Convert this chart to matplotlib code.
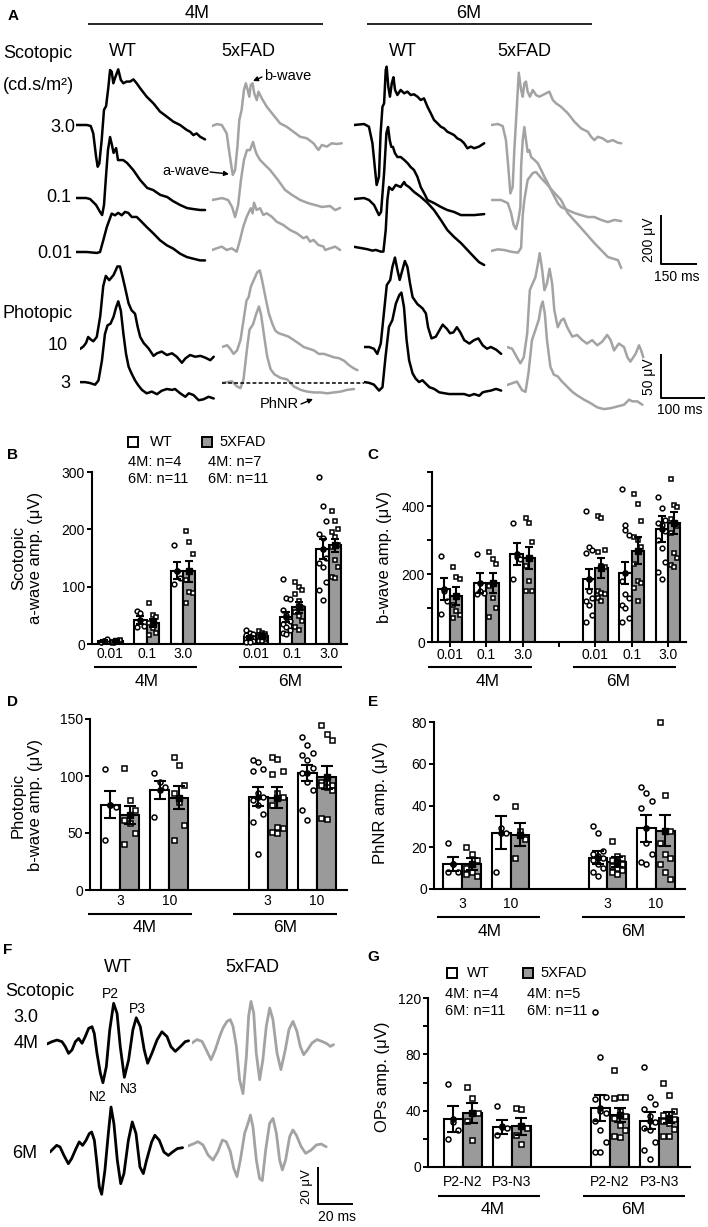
import matplotlib.pyplot as plt

plt.rcParams['font.family'] = ['Liberation Sans', 'DejaVu Sans']

W, H = 708, 1227
GRAY_LINE = '#a3a3a3'
GRAY_BAR = '#9a9a9a'

# scale factors taken from the scale bars (units per pixel)
US, TS = 200 / 48, 150 / 35     # scotopic: uV/px, ms/px
UP, TP = 50 / 43, 100 / 43      # photopic
UF, TF = 20 / 36, 20 / 34       # oscillatory potentials

# ---------------- A: scotopic ERG traces (t in ms, v in uV) ----------------
a_wt4_30_t = [0, 46, 63, 74, 86, 93, 100, 110, 120, 129, 139, 146, 153, 160, 167, 181, 192, 203, 217, 232, 246, 260, 275, 303, 332, 360, 389, 417, 446, 475, 489, 503, 517, 532, 553]
a_wt4_30_v = [0, 0, -4, -35, -132, -174, -160, -63, 63, 79, 160, 229, 222, 174, 195, 232, 188, 174, 181, 181, 190, 174, 153, 118, 90, 56, 35, 14, 0, -21, -28, -42, -35, -49, -60]
a_wt4_01_t = [0, 43, 60, 86, 103, 112, 120, 129, 137, 146, 154, 161, 172, 180, 202, 219, 245, 275, 305, 331, 361, 391, 416, 446, 476, 502, 532, 553]
a_wt4_01_v = [0, 0, -4, -29, -58, -71, -29, 96, 200, 254, 221, 188, 208, 158, 158, 146, 117, 75, 42, 33, 13, 4, -13, -29, -42, -46, -50, -50]
a_wt4_001_t = [0, 46, 89, 103, 117, 132, 153, 167, 181, 196, 210, 224, 239, 260, 275, 303, 332, 360, 389, 417, 446, 475, 503, 532, 553]
a_wt4_001_v = [0, 0, -4, 0, 49, 104, 160, 153, 163, 153, 167, 163, 146, 146, 132, 104, 77, 49, 28, 14, -7, -21, -28, -35, -35]

a_fad4_30_t = [0, 21, 42, 63, 77, 89, 99, 109, 117, 127, 137, 145, 151, 160, 166, 174, 181, 192, 199, 213, 235, 263, 292, 320, 349, 378, 406, 435, 456, 471, 492, 513, 535, 556]
a_fad4_30_v = [0, 8, 4, -31, -128, -204, -183, -86, 25, 67, 150, 178, 157, 122, 171, 178, 136, 108, 143, 116, 80, 46, 11, -3, -24, -45, -51, -72, -100, -79, -86, -72, -75, -72]
a_fad4_01_t = [0, 43, 69, 86, 99, 112, 124, 137, 150, 163, 176, 185, 193, 206, 227, 249, 283, 313, 343, 378, 412, 442, 472, 506, 528, 549]
a_fad4_01_v = [0, 8, 0, -29, -71, -21, 83, 167, 208, 208, 242, 208, 188, 167, 146, 125, 83, 42, 21, 0, -13, -21, -29, -25, -42, -33]
a_fad4_001_t = [0, 20, 42, 63, 85, 106, 120, 134, 149, 166, 174, 180, 191, 206, 220, 234, 256, 277, 306, 335, 363, 392, 406, 420, 435, 456, 478, 485, 506, 528, 549]
a_fad4_001_v = [0, 7, 14, 0, 7, -7, 42, 97, 139, 174, 153, 197, 167, 174, 146, 153, 139, 118, 104, 83, 70, 49, 56, 35, 42, 21, 14, 0, 7, 14, 0]

a_wt6_30_t = [0, 43, 64, 79, 89, 97, 107, 114, 122, 129, 136, 140, 147, 154, 162, 169, 176, 186, 200, 215, 229, 243, 257, 272, 286, 300, 315, 329, 343, 358, 372, 386, 400, 415, 429, 443, 458, 472, 486, 501, 515, 536, 558]
a_wt6_30_v = [0, 4, -7, -76, -174, -250, -215, -35, 76, 90, 229, 243, 160, 118, 174, 199, 146, 125, 146, 132, 139, 125, 128, 118, 104, 111, 76, 49, 21, 7, -7, -14, -28, -35, -42, -56, -63, -76, -97, -90, -97, -90, -76]
a_wt6_01_t = [0, 43, 64, 86, 107, 116, 129, 139, 146, 153, 160, 167, 175, 186, 200, 215, 229, 243, 257, 272, 286, 300, 315, 343, 372, 400, 429, 458, 486, 515, 558]
a_wt6_01_v = [0, 4, -4, -25, -67, -54, 108, 275, 300, 246, 217, 217, 192, 175, 175, 163, 150, 133, 121, 92, 50, 25, -4, -17, -33, -46, -54, -67, -67, -67, -63]
a_wt6_001_t = [0, 29, 57, 79, 93, 115, 126, 136, 143, 150, 164, 179, 200, 215, 222, 236, 257, 286, 315, 343, 372, 400, 429, 458, 486, 515, 536, 558]
a_wt6_001_v = [5, 0, -5, -11, -8, -15, -15, 75, 200, 254, 242, 263, 254, 275, 263, 254, 234, 213, 188, 158, 117, 75, 46, 21, -8, -38, -59, -71]

a_fad6_30_t = [0, 29, 50, 64, 74, 83, 93, 100, 110, 119, 129, 136, 143, 150, 157, 167, 179, 193, 207, 222, 236, 250, 265, 279, 300, 329, 357, 386, 400, 415, 429, 443, 458, 479, 500, 522, 544, 558]
a_fad6_30_v = [0, 4, -4, -63, -174, -285, -257, -104, 63, 218, 146, 118, 174, 181, 139, 118, 146, 125, 118, 125, 132, 139, 104, 90, 76, 49, 14, -14, -21, -28, -49, -63, -49, -56, -70, -63, -74, -76]
a_fad6_01_t = [0, 43, 72, 86, 97, 107, 117, 126, 129, 136, 143, 150, 157, 164, 172, 186, 200, 215, 229, 243, 257, 272, 286, 300, 329, 357, 386, 415, 443, 472, 501, 529, 558]
a_fad6_01_v = [0, 0, -13, -54, -104, -121, -83, -29, 138, 250, 304, 250, 200, 208, 179, 167, 154, 125, 96, 71, 42, 13, -13, -29, -42, -54, -63, -71, -71, -83, -92, -83, -88]
a_fad6_001_t = [0, 29, 57, 86, 115, 129, 136, 143, 157, 179, 193, 215, 243, 272, 300, 329, 386, 443, 501, 544, 558]
a_fad6_001_v = [0, 7, 4, -3, -7, 13, 150, 213, 296, 325, 329, 304, 275, 242, 213, 158, 96, 33, -25, -38, -71]

# ---------------- A: photopic ERG traces ----------------
a_wt4_p10_t = [0, 8, 14, 19, 25, 31, 39, 47, 54, 60, 68, 78, 87, 93, 99, 105, 113, 120, 128, 134, 140, 148, 159, 171, 179, 190, 202, 214, 225, 237, 245, 256, 268, 280, 291, 303, 311]
a_wt4_p10_v = [0, 3, 7, 14, 11, 9, 14, 38, 73, 85, 80, 86, 96, 96, 84, 71, 53, 45, 41, 26, 14, 7, 1, -8, -5, -3, -7, -5, -9, -16, -11, -7, -9, -8, -10, -13, -9]
a_wt4_p3_t = [0, 12, 23, 35, 43, 51, 58, 64, 71, 78, 84, 89, 95, 101, 107, 113, 120, 128, 136, 144, 155, 167, 179, 190, 202, 214, 221, 233, 245, 253, 264, 276, 287, 299, 311]
a_wt4_p3_v = [1, 1, 0, -2, 3, 26, 57, 67, 69, 77, 88, 95, 84, 57, 34, 19, 11, 3, -3, -8, -12, -10, -13, -9, -7, -8, -7, -12, -16, -12, -14, -20, -19, -16, -18]
a_fad4_p10_t = [0, 12, 19, 27, 35, 43, 50, 57, 62, 67, 74, 82, 88, 93, 101, 109, 117, 124, 132, 144, 155, 167, 179, 190, 202, 214, 225, 237, 249, 260, 272, 284, 295, 307, 315]
a_fad4_p10_v = [0, 2, -2, -8, -4, 8, 31, 54, 58, 70, 78, 87, 89, 78, 58, 39, 27, 19, 16, 14, 12, 8, 4, 0, -2, -4, -8, -8, -10, -12, -13, -16, -21, -25, -27]
a_fad4_p3_t = [0, 12, 23, 35, 43, 50, 58, 64, 72, 80, 86, 91, 97, 105, 113, 122, 136, 152, 167, 183, 198, 214, 229, 245, 260, 276, 291, 307]
a_fad4_p3_v = [0, 1, 2, -4, -6, 4, 39, 62, 68, 81, 89, 79, 58, 31, 16, 10, 6, 4, -4, -8, -10, -11, -11, -12, -11, -10, -8, -7]
a_wt6_p10_t = [0, 12, 23, 31, 39, 47, 53, 61, 66, 72, 78, 83, 89, 95, 101, 107, 113, 124, 136, 144, 149, 157, 167, 175, 183, 193, 200, 208, 216, 224, 233, 245, 256, 266, 276, 286, 295, 307, 319]
a_wt6_p10_v = [0, 0, -2, -8, 4, 43, 72, 78, 93, 104, 89, 78, 89, 100, 93, 74, 58, 50, 45, 39, 23, 10, 12, 19, 26, 21, 16, 17, 23, 17, 8, 4, 8, 10, 2, -2, 0, -3, -8]
a_wt6_p3_t = [0, 12, 23, 35, 43, 50, 58, 66, 74, 82, 87, 93, 99, 105, 113, 120, 128, 136, 144, 152, 163, 175, 186, 198, 210, 221, 233, 245, 256, 268, 276, 284, 295, 307, 319]
a_wt6_p3_v = [0, -1, -3, -10, -6, 29, 64, 72, 91, 101, 104, 87, 49, 25, 10, 4, 0, 2, -2, -6, -8, -12, -13, -14, -14, -14, -14, -16, -14, -16, -12, -11, -10, -8, -10]
a_fad6_p10_t = [0, 12, 23, 31, 39, 47, 53, 58, 66, 72, 76, 82, 87, 93, 99, 105, 110, 118, 126, 132, 140, 152, 163, 175, 186, 198, 210, 221, 233, 241, 249, 260, 272, 280, 287, 299, 307, 312, 317]
a_fad6_p10_v = [0, -2, -12, -19, -12, 16, 66, 72, 81, 97, 109, 89, 66, 74, 91, 74, 43, 23, 31, 33, 23, 12, 14, 8, 4, 8, 2, 6, 14, 8, -4, 4, 0, -12, -17, -8, 2, -4, -12]
a_fad6_p3_t = [0, 12, 23, 35, 43, 50, 58, 66, 74, 79, 83, 88, 93, 101, 109, 118, 128, 140, 152, 163, 179, 194, 210, 225, 241, 256, 272, 284, 291, 303, 315]
a_fad6_p3_v = [0, 2, 4, -6, -8, 14, 52, 64, 76, 91, 97, 83, 52, 21, 12, 10, 4, -2, -8, -12, -17, -21, -26, -28, -27, -25, -23, -17, -19, -19, -23]

# ---------------- F: oscillatory potentials (ms, uV) ----------------
f_wt4_t = [0, 2.9, 5.9, 8.8, 10.8, 12.7, 14.7, 16.7, 18.6, 20.6, 22.5, 24.5, 26.5, 27.8, 29.4, 31.4, 32.9, 34.9, 36.9, 39.2, 41.2, 43.1, 45.5, 48.0, 50.5, 52.5, 54.9, 57.2, 59.2, 61.7, 64.7, 67.6, 70.6, 72.9, 75.5, 78.4, 81.3, 83.3]
f_wt4_v = [0, 1.3, 2.2, 1.3, -1.5, -5.2, -3.3, 1.3, 3.1, 0.4, 4.1, 8.7, 9.6, 5.9, -5.2, -16.3, -21.5, -12.6, 7.8, 22.6, 17.0, -1.5, -18.5, -8.9, 7.8, 14.6, 9.6, -3.3, -10.7, -5.2, 2.2, 6.8, 4.1, -1.5, -4.1, -1.5, 1.3, 1.8]
f_fad4_t = [0, 2.9, 5.9, 8.8, 11.2, 13.7, 16.3, 18.2, 20.6, 22.5, 24.1, 26.1, 28.0, 30.0, 32.0, 33.3, 34.7, 36.3, 37.8, 39.8, 41.7, 43.7, 45.7, 47.6, 50.0, 52.3, 54.9, 57.0, 59.4, 61.7, 63.7, 65.7, 68.0, 70.6, 73.5, 76.4, 79.4, 81.3, 83.3]
f_fad4_v = [0, 1.9, 0.9, -4.6, -9.3, -3.7, 3.7, 8.3, 12.0, 13.0, 9.3, -1.9, -20.4, -28.1, -7.4, 14.8, 23.1, 16.7, -5.6, -20.4, -9.3, 9.3, 19.4, 13.0, -5.6, -14.8, -3.7, 7.4, 12.0, 6.5, -1.9, -6.5, -3.7, 0, 1.9, 0.9, -0.4, -1.9, -0.9]
f_wt6_t = [0, 2.0, 3.9, 5.9, 8.2, 10.8, 12.7, 15.3, 17.2, 19.2, 21.2, 23.1, 24.5, 26.1, 27.4, 29.0, 30.4, 32.3, 34.3, 35.9, 37.6, 39.6, 41.6, 43.5, 46.1, 48.4, 50.6, 52.9, 54.9, 56.8, 59.8, 61.7, 64.3, 67.0, 69.6, 72.1, 74.9, 78.0]
f_wt6_v = [0, 1.9, 3.7, 2.8, -1.9, -6.5, -3.7, 1.9, 5.6, 3.7, 6.5, 10.2, 11.1, 6.5, -4.6, -19.4, -23.5, -10.2, 10.2, 25.0, 15.7, -4.6, -17.6, -12.0, 6.5, 16.7, 10.2, -8.3, -12.0, -4.6, 5.6, 9.3, 6.5, 0, -1.9, 0, 1.9, 2.4]
f_fad6_t = [0, 2.9, 5.9, 8.8, 11.8, 14.7, 17.6, 20.2, 22.5, 24.9, 26.9, 28.8, 30.8, 33.3, 35.3, 36.7, 38.2, 40.2, 42.1, 43.7, 45.7, 48.0, 50.0, 52.0, 53.9, 55.5, 57.4, 59.8, 61.7, 63.7, 66.6, 69.2, 72.5, 75.5, 78.4, 80.4, 81.3]
f_fad6_v = [0, 1.1, 2.4, 0.6, -5.0, -7.8, -3.1, 3.3, 2.4, -3.1, -12.4, -17.0, -7.8, 7.0, 12.6, 17.2, 10.7, -7.8, -18.1, -19.2, -2.2, 12.6, 15.3, 7.0, -7.8, -13.3, -7.8, 5.2, 8.9, 6.1, -0.4, -4.1, -2.2, 0.6, 1.1, 0, -0.4]

# ---------------- B: scotopic a-wave ----------------
b_labels = ['0.01', '0.1', '3.0', '0.01', '0.1', '3.0']
b_wt_mean = [5, 42, 128, 12, 47, 166]
b_wt_sem = [1.5, 7, 15, 2.5, 9, 17]
b_fad_mean = [5, 37, 127, 14, 64, 172]
b_fad_sem = [1, 7, 18, 2, 10, 11]
b_wt_pts = [[3, 5, 8, 4], [57, 54, 32, 30], [172, 128, 115, 105],
            [25, 20, 18, 15, 12, 10, 8, 6, 5, 4, 3],
            [113, 80, 78, 60, 50, 40, 35, 30, 25, 20, 18],
            [291, 240, 215, 192, 185, 150, 141, 134, 108, 94, 77]]
b_fad_pts = [[2, 4, 6, 3, 5, 7, 4], [71, 50, 47, 36, 28, 19, 16], [197, 178, 157, 112, 91, 89, 72],
             [22, 20, 18, 16, 15, 14, 12, 10, 8, 6, 5],
             [108, 100, 94, 88, 75, 62, 55, 48, 40, 30, 25],
             [232, 215, 201, 196, 187, 173, 170, 147, 135, 117, 115]]

# ---------------- C: scotopic b-wave ----------------
c_wt_mean = [156, 174, 259, 185, 203, 332]
c_wt_sem = [32, 29, 32, 30, 32, 39]
c_fad_mean = [135, 173, 247, 218, 268, 350]
c_fad_sem = [27, 30, 32, 29, 40, 32]
c_wt_pts = [[252, 150, 120, 82], [258, 150, 145, 140], [350, 250, 245, 185],
            [385, 280, 272, 262, 185, 130, 120, 110, 80, 60, 150],
            [450, 345, 315, 180, 140, 130, 110, 100, 70, 60, 330],
            [426, 395, 360, 350, 345, 326, 300, 277, 235, 206, 185]]
c_fad_pts = [[220, 190, 185, 110, 90, 80, 70], [265, 245, 230, 165, 130, 100, 75],
             [365, 350, 295, 225, 180, 150, 150],
             [370, 365, 270, 265, 225, 220, 150, 145, 140, 130, 120],
             [435, 405, 355, 310, 300, 280, 230, 180, 175, 160, 120],
             [480, 403, 397, 362, 350, 340, 320, 262, 247, 226, 221]]

# ---------------- D: photopic b-wave ----------------
d_labels = ['3', '10', '3', '10']
d_wt_mean = [75, 88, 82, 103]
d_wt_sem = [12, 8, 8, 7]
d_fad_mean = [66, 81, 81, 99]
d_fad_sem = [8, 10, 9, 10]
d_wt_pts = [[106, 75, 73, 44], [103, 95, 90, 64],
            [114, 112, 106, 104, 85, 82, 79, 75, 67, 60, 32],
            [134, 127, 120, 118, 114, 107, 103, 95, 88, 70, 61]]
d_fad_pts = [[107, 79, 70, 61, 59, 50, 40], [117, 110, 92, 85, 77, 57, 44],
             [117, 115, 104, 102, 85, 82, 75, 55, 54, 51, 50],
             [145, 137, 132, 95, 94, 92, 92, 90, 88, 63, 62]]

# ---------------- E: PhNR ----------------
e_wt_mean = [12, 27, 15, 29]
e_wt_sem = [3.5, 8, 3, 6.5]
e_fad_mean = [12, 26, 13, 28]
e_fad_sem = [3, 5.5, 2.5, 7.5]
e_wt_pts = [[22, 12, 8, 8], [44, 29, 27, 8],
            [30, 27, 18, 17, 16, 15, 14, 12, 10, 8, 6],
            [49, 46, 42, 39, 22, 17, 13, 12]]
e_fad_pts = [[20, 17, 14, 10, 8, 6, 7], [40, 28, 24, 15],
             [23, 16, 15, 14, 13, 12, 11, 10, 9, 8, 7],
             [80, 45, 28, 22, 17, 15, 12, 8, 5]]

# ---------------- G: OPs ----------------
g_labels = ['P2-N2', 'P3-N3', 'P2-N2', 'P3-N3']
g_wt_mean = [34, 28.5, 42, 33]
g_wt_sem = [9, 5, 9, 6]
g_fad_mean = [38.5, 29, 37, 35]
g_fad_sem = [7, 6, 5, 4]
g_wt_pts = [[59, 32, 26, 20], [43, 29, 28, 23],
            [110, 78, 50, 48, 40, 38, 33, 26, 18, 11, 11],
            [71, 50, 45, 41, 36, 32, 28, 26, 18, 12, 6]]
g_fad_pts = [[57, 49, 38, 33, 19], [42, 41, 28, 23, 16],
             [69, 50, 50, 49, 40, 36, 35, 30, 26, 22, 21],
             [60, 51, 40, 37, 35, 34, 33, 31, 27, 22, 22]]

fig = plt.figure(figsize=(W / 100, H / 100), dpi=100)


def px_axes(x0, y0, x1, y1):
    return fig.add_axes([x0 / W, 1 - y1 / H, (x1 - x0) / W, (y1 - y0) / H])


def trace(x0, ybase, t, v, color, tpp, upp, width=150, half=110, lw=1.8):
    ax = px_axes(x0, ybase - half, x0 + width, ybase + half)
    ax.plot(t, v, color=color, lw=lw, solid_joinstyle='round', solid_capstyle='round')
    ax.set_xlim(0, width * tpp)
    ax.set_ylim(-half * upp, half * upp)
    ax.axis('off')


# panel A traces: (start px, baseline px)
for x0, yb, t, v, c in [
        (76, 125, a_wt4_30_t, a_wt4_30_v, 'k'), (76, 198, a_wt4_01_t, a_wt4_01_v, 'k'),
        (76, 252, a_wt4_001_t, a_wt4_001_v, 'k'),
        (212, 126, a_fad4_30_t, a_fad4_30_v, GRAY_LINE), (212, 200, a_fad4_01_t, a_fad4_01_v, GRAY_LINE),
        (212, 250, a_fad4_001_t, a_fad4_001_v, GRAY_LINE),
        (354, 125, a_wt6_30_t, a_wt6_30_v, 'k'), (354, 199, a_wt6_01_t, a_wt6_01_v, 'k'),
        (354, 248, a_wt6_001_t, a_wt6_001_v, 'k'),
        (491, 125, a_fad6_30_t, a_fad6_30_v, GRAY_LINE), (491, 200, a_fad6_01_t, a_fad6_01_v, GRAY_LINE),
        (491, 251, a_fad6_001_t, a_fad6_001_v, GRAY_LINE)]:
    trace(x0, yb, t, v, c, TS, US)

for x0, yb, t, v, c in [
        (80, 349, a_wt4_p10_t, a_wt4_p10_v, 'k'), (80, 383, a_wt4_p3_t, a_wt4_p3_v, 'k'),
        (222, 347, a_fad4_p10_t, a_fad4_p10_v, GRAY_LINE), (222, 383, a_fad4_p3_t, a_fad4_p3_v, GRAY_LINE),
        (364, 347, a_wt6_p10_t, a_wt6_p10_v, 'k'), (364, 382, a_wt6_p3_t, a_wt6_p3_v, 'k'),
        (507, 347, a_fad6_p10_t, a_fad6_p10_v, GRAY_LINE), (507, 385, a_fad6_p3_t, a_fad6_p3_v, GRAY_LINE)]:
    trace(x0, yb, t, v, c, TP, UP)

for x0, yb, t, v, c in [
        (47, 1044, f_wt4_t, f_wt4_v, 'k'), (192, 1043, f_fad4_t, f_fad4_v, GRAY_LINE),
        (50, 1152, f_wt6_t, f_wt6_v, 'k'), (188, 1146, f_fad6_t, f_fad6_v, GRAY_LINE)]:
    trace(x0, yb, t, v, c, TF, UF, width=150, half=60, lw=2.0)

JIT = [-0.27, 0.0, 0.27]


def bar_panel(rect, slots, labels, wt_m, wt_s, fad_m, fad_s, wt_p, fad_p, xlim, bw,
              ymax, yticks, yticklabels=None, minor=None, extra_ticks=(), ticklen=0.0,
              xpad=3, cap=3.0, ms=3.2):
    ax = px_axes(*rect)
    for k, s in enumerate(slots):
        groups = ((s - bw / 2, wt_m[k], wt_s[k], wt_p[k], 'white', 'o'),
                  (s + bw / 2, fad_m[k], fad_s[k], fad_p[k], GRAY_BAR, 's'))
        for x, m, e, pts, fc, mk in groups:
            ax.bar(x, m, bw, color=fc, edgecolor='black', linewidth=1.5, zorder=2)
            xs = [x + JIT[i % 3] * bw for i in range(len(pts))]
            ax.plot(xs, pts, mk, ms=ms, mfc='white', mec='black', mew=1.1, ls='none',
                    zorder=3, clip_on=False)
            ax.errorbar(x, m, yerr=e, fmt=mk, ms=3.8, mfc='black', mec='black', ecolor='black',
                        elinewidth=1.5, capsize=cap, capthick=1.5, zorder=4)
    ax.set_xlim(*xlim)
    ax.set_ylim(0, ymax)
    ticks = list(slots) + list(extra_ticks)
    ax.set_xticks(ticks, list(labels) + [''] * len(extra_ticks))
    ax.set_yticks(yticks, yticklabels if yticklabels is not None else [str(y) for y in yticks])
    if minor:
        ax.set_yticks(minor, minor=True)
    for sp in ('top', 'right'):
        ax.spines[sp].set_visible(False)
    for sp in ('left', 'bottom'):
        ax.spines[sp].set_linewidth(1.5)
    ax.tick_params(axis='y', which='both', length=3.5, width=1.4, labelsize=10, pad=1.5)
    ax.tick_params(axis='x', length=ticklen, width=1.4, labelsize=10, pad=xpad)
    ax.patch.set_alpha(0)
    return ax


slots6 = [0, 1, 2, 4, 5, 6]
slots4 = [0, 1, 3, 4]

bar_panel((92, 472, 347, 644), slots6, b_labels, b_wt_mean, b_wt_sem, b_fad_mean, b_fad_sem,
          b_wt_pts, b_fad_pts, (-0.5, 6.5), 0.34, 300, [0, 100, 200, 300], xpad=2, cap=2.6, ms=3.4)
bar_panel((432, 472, 686, 642), slots6, b_labels, c_wt_mean, c_wt_sem, c_fad_mean, c_fad_sem,
          c_wt_pts, c_fad_pts, (-0.5, 6.5), 0.34, 500, [0, 100, 200, 300, 400, 500],
          yticklabels=['0', '', '200', '', '400', ''], extra_ticks=[3], ticklen=3.5, xpad=1,
          cap=2.6, ms=3.4)
bar_panel((90, 719, 347, 890), slots4, d_labels, d_wt_mean, d_wt_sem, d_fad_mean, d_fad_sem,
          d_wt_pts, d_fad_pts, (-0.61, 4.61), 0.39, 150, [0, 50, 100, 150], xpad=3, cap=4, ms=3.6)
bar_panel((434, 722, 685, 889), slots4, d_labels, e_wt_mean, e_wt_sem, e_fad_mean, e_fad_sem,
          e_wt_pts, e_fad_pts, (-0.58, 4.6), 0.39, 80, [0, 20, 40, 60, 80], xpad=6, cap=4, ms=3.6)
bar_panel((428, 998, 690, 1167), slots4, g_labels, g_wt_mean, g_wt_sem, g_fad_mean, g_fad_sem,
          g_wt_pts, g_fad_pts, (-0.71, 4.63), 0.39, 120, [0, 40, 80, 120], minor=[20, 60, 100],
          xpad=6, cap=4, ms=3.6)

# ---------------- overlay for labels and annotations (pixel coordinates) ----------------
ov = fig.add_axes([0, 0, 1, 1])
ov.set_xlim(0, W)
ov.set_ylim(H, 0)
ov.axis('off')


def T(x, y, s, size=13, ha='center', **kw):
    ov.text(x, y, s, fontsize=size, ha=ha, va='center', **kw)


def hline(x0, x1, y, lw=1.3, **kw):
    ov.plot([x0, x1], [y, y], color='k', lw=lw, solid_capstyle='butt', **kw)


for s, x, y in [('A', 13, 16), ('B', 12, 455), ('C', 373, 455), ('D', 12, 702),
                ('E', 373, 702), ('F', 8, 950), ('G', 373, 957)]:
    T(x, y, s, size=11, fontweight='bold')

# panel A labels
T(197, 13, '4M', size=13)
T(469, 13, '6M', size=13)
hline(88, 323, 24, lw=1.2)
hline(367, 592, 24, lw=1.2)
T(3, 53, 'Scotopic', ha='left')
T(3, 85, '(cd.s/m²)', ha='left')
for x, s in [(123, 'WT'), (248, '5xFAD'), (403, 'WT'), (524, '5xFAD')]:
    T(x, 51, s)
T(75, 128, '3.0', ha='right')
T(71, 198, '0.1', ha='right')
T(72, 253, '0.01', ha='right')
T(3, 314, 'Photopic', ha='left')
T(68, 346, '10', ha='right')
T(70, 383, '3', ha='right')
T(264, 76, 'b-wave', size=10.5, ha='left')
T(162, 171, 'a-wave', size=10.5, ha='left')
T(260, 404, 'PhNR', size=10.5, ha='left')
arrow = dict(arrowstyle='-|>', color='k', lw=1.0, mutation_scale=7, shrinkA=0, shrinkB=0)
ov.annotate('', xy=(253, 81), xytext=(262, 77), arrowprops=arrow)
ov.annotate('', xy=(229, 174), xytext=(210, 172), arrowprops=arrow)
ov.annotate('', xy=(313, 399), xytext=(301, 404), arrowprops=arrow)
ov.plot([222, 364], [383, 383], color='k', lw=1.1, ls=(0, (2.5, 1.5)))

# scale bars
sx, sy = 661, 264
ov.plot([sx, sx, sx + 150 / TS], [sy - 200 / US, sy, sy], color='k', lw=1.4)
T(649, 240, '200 μV', size=10, rotation=90)
T(677, 277, '150 ms', size=10)
sx, sy = 661, 398
ov.plot([sx, sx, sx + 100 / TP], [sy - 50 / UP, sy, sy], color='k', lw=1.4)
T(649, 377, '50 μV', size=10, rotation=90)
T(680, 410, '100 ms', size=10)

# B / G legends
ov.plot(133, 442, 's', ms=6.5, mfc='white', mec='k', mew=1.4)
T(150, 442, 'WT', size=10.5, ha='left')
ov.plot(207, 442, 's', ms=6.5, mfc=GRAY_BAR, mec='k', mew=1.4)
T(219, 442, '5XFAD', size=10.5, ha='left')
T(128, 462, '4M: n=4', size=10.5, ha='left')
T(128, 479, '6M: n=11', size=10.5, ha='left')
T(208, 462, '4M: n=7', size=10.5, ha='left')
T(208, 479, '6M: n=11', size=10.5, ha='left')

ov.plot(452, 973, 's', ms=6.5, mfc='white', mec='k', mew=1.4)
T(467, 973, 'WT', size=10.5, ha='left')
ov.plot(528, 973, 's', ms=6.5, mfc=GRAY_BAR, mec='k', mew=1.4)
T(540, 973, '5XFAD', size=10.5, ha='left')
T(445, 994, '4M: n=4', size=10.5, ha='left')
T(445, 1011, '6M: n=11', size=10.5, ha='left')
T(527, 994, '4M: n=5', size=10.5, ha='left')
T(527, 1011, '6M: n=11', size=10.5, ha='left')

# y labels
T(27, 558, 'Scotopic\na-wave amp. (μV)', size=12, rotation=90, linespacing=1.15)
T(385, 557, 'b-wave amp. (μV)', size=12, rotation=90)
T(27, 805, 'Photopic\nb-wave amp. (μV)', size=12, rotation=90, linespacing=1.15)
T(381, 803, 'PhNR amp. (μV)', size=12, rotation=90)
T(383, 1077, 'OPs amp. (μV)', size=12, rotation=90)

# age group lines
for (x0, x1, y, lx, ly, s) in [
        (94, 197, 667, 147, 682, '4M'), (239, 342, 667, 290, 682, '6M'),
        (428, 532, 667, 488, 682, '4M'), (573, 676, 667, 618, 682, '6M'),
        (88, 192, 914, 145, 928, '4M'), (233, 337, 914, 285, 928, '6M'),
        (437, 540, 917, 490, 931, '4M'), (582, 685, 917, 633, 931, '6M'),
        (438, 540, 1196, 493, 1210, '4M'), (583, 685, 1196, 633, 1210, '6M')]:
    hline(x0, x1, y, lw=1.5)
    T(lx, ly, s, size=12.5)

# panel F labels
T(118, 968, 'WT')
T(252, 968, '5xFAD')
T(5, 992, 'Scotopic', ha='left')
T(26, 1018, '3.0')
T(26, 1043, '4M')
T(25, 1153, '6M')
T(110, 994, 'P2', size=10)
T(137, 1009, 'P3', size=10)
T(98, 1097, 'N2', size=10)
T(129, 1089, 'N3', size=10)
sx, sy = 318, 1204
ov.plot([sx, sx, sx + 20 / TF], [sy - 20 / UF, sy, sy], color='k', lw=1.4)
T(307, 1187, '20 μV', size=9.5, rotation=90)
T(337, 1217, '20 ms', size=10)

fig.savefig('out.png', dpi=100)
